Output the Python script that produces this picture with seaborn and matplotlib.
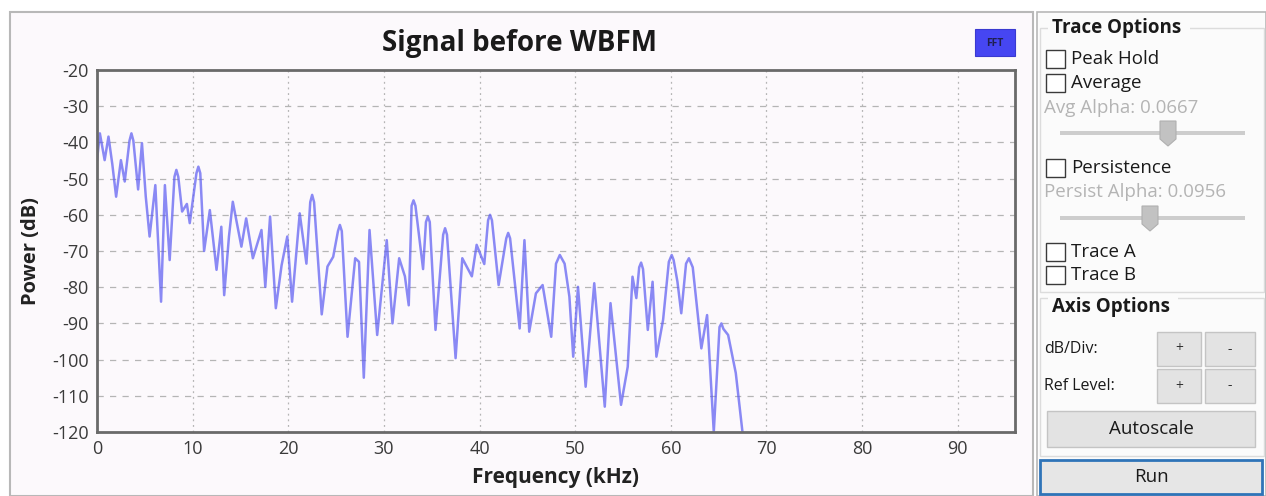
import matplotlib
matplotlib.use("Agg")
import matplotlib.pyplot as plt
from matplotlib.patches import Rectangle, Polygon
import seaborn as sns
import pandas as pd

# ---------------- data ----------------
freq_khz = [0.0, 0.3, 0.8, 1.2, 1.6, 2.0, 2.5, 2.9, 3.4, 3.6, 3.8, 4.3, 4.7, 5.1, 5.5,
            6.1, 6.7, 7.1, 7.6, 8.1, 8.3, 8.5, 8.9, 9.4, 9.7, 10.4, 10.6, 10.8, 11.2,
            11.8, 12.5, 13.0, 13.3, 13.8, 14.2, 15.1, 15.6, 16.3, 17.2, 17.6, 18.1,
            18.7, 19.3, 19.9, 20.4, 21.2, 21.9, 22.3, 22.5, 22.7, 23.5, 24.1, 24.7,
            25.2, 25.4, 25.6, 26.2, 27.0, 27.4, 27.9, 28.5, 29.3, 30.3, 30.9, 31.6,
            32.2, 32.6, 32.9, 33.1, 33.3, 34.1, 34.4, 34.6, 34.8, 35.4, 36.2, 36.4,
            36.6, 37.5, 38.2, 39.2, 39.7, 40.5, 40.9, 41.1, 41.3, 42.0, 42.8, 43.0,
            43.2, 44.2, 44.7, 45.2, 45.9, 46.6, 47.5, 48.0, 48.4, 48.9, 49.4, 49.8,
            50.3, 51.1, 52.0, 53.1, 53.7, 54.8, 55.5, 56.0, 56.4, 56.7, 56.9, 57.1,
            57.6, 58.1, 58.5, 59.2, 59.8, 60.1, 60.3, 60.7, 61.1, 61.6, 61.9, 62.3,
            63.2, 63.8, 64.5, 65.1, 65.3, 65.5, 66.0, 66.8, 67.5]
power_db = [-45, -37.5, -44.9, -38.4, -46, -55, -44.9, -50.8, -39.5, -37.5, -39.5, -53,
            -40.2, -55, -66, -51.8, -84, -51.8, -72.5, -49.5, -47.6, -49.5, -59.1, -57,
            -62.3, -48.5, -46.7, -48.5, -70, -58.7, -75.2, -63.3, -82.2, -66, -56.4,
            -68.8, -61, -72, -64.2, -79.9, -60.5, -85.8, -74, -66, -84, -59.6, -73.5,
            -56.5, -54.5, -56.5, -87.5, -74.3, -71.6, -64.5, -62.8, -64.5, -93.7, -72,
            -73, -105, -64.2, -93.2, -67, -90, -72, -77, -85, -57.5, -56, -57.5, -75,
            -62, -60.5, -62, -91.8, -65.5, -63.7, -65.5, -99.6, -72, -77, -68.3,
            -73.6, -61.5, -60, -61.5, -79.4, -66.5, -65, -66.5, -91.4, -67, -92.3,
            -81.7, -79.4, -93.7, -73.5, -71.1, -73.5, -82.6, -99.2, -79.9, -107.5,
            -78.9, -113, -84.4, -112.5, -102, -77.1, -83, -74.5, -73.2, -75, -91.8,
            -78.5, -99.2, -89, -73, -71.1, -72.5, -78.5, -87.2, -73.5, -72, -74.5,
            -96.9, -87.7, -120, -91, -90, -91.5, -93.2, -103.7, -120]
x_ticks = [0, 10, 20, 30, 40, 50, 60, 70, 80, 90]
y_ticks = [-20, -30, -40, -50, -60, -70, -80, -90, -100, -110, -120]

title_text = "Signal before WBFM"
x_label = "Frequency (kHz)"
y_label = "Power (dB)"

df = pd.DataFrame({"freq": freq_khz, "power": power_db})

# ---------------- figure ----------------
sns.set_style("white")
plt.rcParams["font.family"] = ["Open Sans", "DejaVu Sans"]
plt.rcParams["axes.unicode_minus"] = False

W, H = 1266, 496
fig = plt.figure(figsize=(W / 100, H / 100), dpi=100)
fig.patch.set_facecolor("white")


def fx(px):
    return px / W


def fy(py):
    return 1 - py / H


def frect(x0, y0, x1, y1, **kw):
    r = Rectangle((fx(x0), fy(y1)), fx(x1) - fx(x0), fy(y0) - fy(y1),
                  transform=fig.transFigure, **kw)
    fig.add_artist(r)
    return r


def ftext(px, py, s, **kw):
    fig.text(fx(px), fy(py), s, **kw)


# plot widget background & frame
frect(10, 12, 1033, 496, facecolor="#fcf9fc", edgecolor="#b8b8b8", lw=1.5, zorder=0)

ax = fig.add_axes([fx(97), fy(432), fx(1015) - fx(97), fy(70) - fy(432)])
ax.set_facecolor("#fcf9fc")

sns.lineplot(data=df, x="freq", y="power", ax=ax, estimator=None, sort=False,
             color="#5a5af2", lw=1.8, alpha=0.7)

ax.set_xlim(0, 96)
ax.set_ylim(-120, -20)
ax.set_xticks(x_ticks)
ax.set_yticks(y_ticks)
ax.tick_params(axis="both", length=0, pad=6, labelcolor="#3a3a3a")
for lab in ax.get_xticklabels() + ax.get_yticklabels():
    lab.set_fontsize(13)
ax.grid(False)
for yv in y_ticks[1:-1]:
    ax.axhline(yv, color="#b5b5b5", lw=0.9, ls=(0, (5, 5)), zorder=0)
for xv in x_ticks[1:]:
    ax.axvline(xv, color="#b5b5b5", lw=0.9, ls=(0, (1.5, 3)), zorder=0)
for sp in ax.spines.values():
    sp.set_color("#6a6a6a")
    sp.set_linewidth(2)
ax.set_xlabel(x_label, fontsize=15, fontweight="bold", color="#222222", labelpad=6)
ax.set_ylabel(y_label, fontsize=14.5, fontweight="bold", color="#222222", labelpad=8)

ftext(520, 44, title_text, fontsize=20, fontweight="bold", color="#1a1a1a",
      ha="center", va="center")

# FFT badge
frect(975, 29, 1015, 56, facecolor="#4646f2", edgecolor="#3a3ad0", lw=0.8)
ftext(995, 43, "FFT", fontsize=7.5, color="#202050", ha="center", va="center",
      fontweight="bold")

# ---------------- right control panel ----------------
frect(1037, 12, 1266, 496, facecolor="#fbfbfb", edgecolor="#b8b8b8", lw=1.2, zorder=0)
# group boxes
frect(1040, 28, 1264, 292, facecolor="none", edgecolor="#dcdcdc", lw=1.0)
frect(1040, 298, 1264, 456, facecolor="none", edgecolor="#dcdcdc", lw=1.0)
frect(1048, 17, 1190, 39, facecolor="#fbfbfb", edgecolor="none")
frect(1048, 296, 1178, 318, facecolor="#fbfbfb", edgecolor="none")
ftext(1052, 28, "Trace Options", fontsize=13.5, fontweight="bold", color="#1a1a1a",
      va="center")
ftext(1052, 307, "Axis Options", fontsize=13.5, fontweight="bold", color="#1a1a1a",
      va="center")

checkbox_labels = ["Peak Hold", "Average", "Persistence", "Trace A", "Trace B"]
checkbox_y = [59, 83, 168, 252, 275]
for lab, cy in zip(checkbox_labels, checkbox_y):
    frect(1046, cy - 9, 1065, cy + 9, facecolor="white", edgecolor="#3a3a3a", lw=1.0)
    ftext(1071, cy, lab, fontsize=13.5, color="#1a1a1a", va="center")

gray_labels = ["Avg Alpha: 0.0667", "Persist Alpha: 0.0956"]
gray_y = [108, 192]
for lab, gy in zip(gray_labels, gray_y):
    ftext(1044, gy, lab, fontsize=13.5, color="#b4b4b4", va="center")

# sliders
for sy, hx in [(133, 1168), (218, 1150)]:
    frect(1060, sy - 2, 1245, sy + 2, facecolor="#cdcdcd", edgecolor="none")
    poly = Polygon([(fx(hx - 8), fy(sy - 12)), (fx(hx + 8), fy(sy - 12)),
                    (fx(hx + 8), fy(sy + 6)), (fx(hx), fy(sy + 13)),
                    (fx(hx - 8), fy(sy + 6))], closed=True, transform=fig.transFigure,
                   facecolor="#c2c2c2", edgecolor="#b0b0b0", lw=0.8)
    fig.add_artist(poly)

# axis option buttons
row_labels = ["dB/Div:", "Ref Level:"]
row_y = [349, 386]
for lab, ry in zip(row_labels, row_y):
    ftext(1044, ry, lab, fontsize=11.5, color="#1a1a1a", va="center")
    frect(1157, ry - 17, 1201, ry + 17, facecolor="#e3e3e3", edgecolor="#c4c4c4", lw=1.0)
    frect(1205, ry - 17, 1255, ry + 17, facecolor="#e3e3e3", edgecolor="#c4c4c4", lw=1.0)
    ftext(1179, ry, "+", fontsize=10, color="#333333", ha="center", va="center")
    ftext(1230, ry, "-", fontsize=10, color="#333333", ha="center", va="center")

frect(1047, 411, 1255, 447, facecolor="#e3e3e3", edgecolor="#c4c4c4", lw=1.0)
ftext(1151, 429, "Autoscale", fontsize=13.5, color="#1a1a1a", ha="center", va="center")

frect(1040, 460, 1262, 494, facecolor="#e6e6e6", edgecolor="#2f74b8", lw=2.0)
ftext(1151, 477, "Run", fontsize=13.5, color="#1a1a1a", ha="center", va="center")

fig.savefig("out.png", dpi=100, facecolor=fig.get_facecolor())
